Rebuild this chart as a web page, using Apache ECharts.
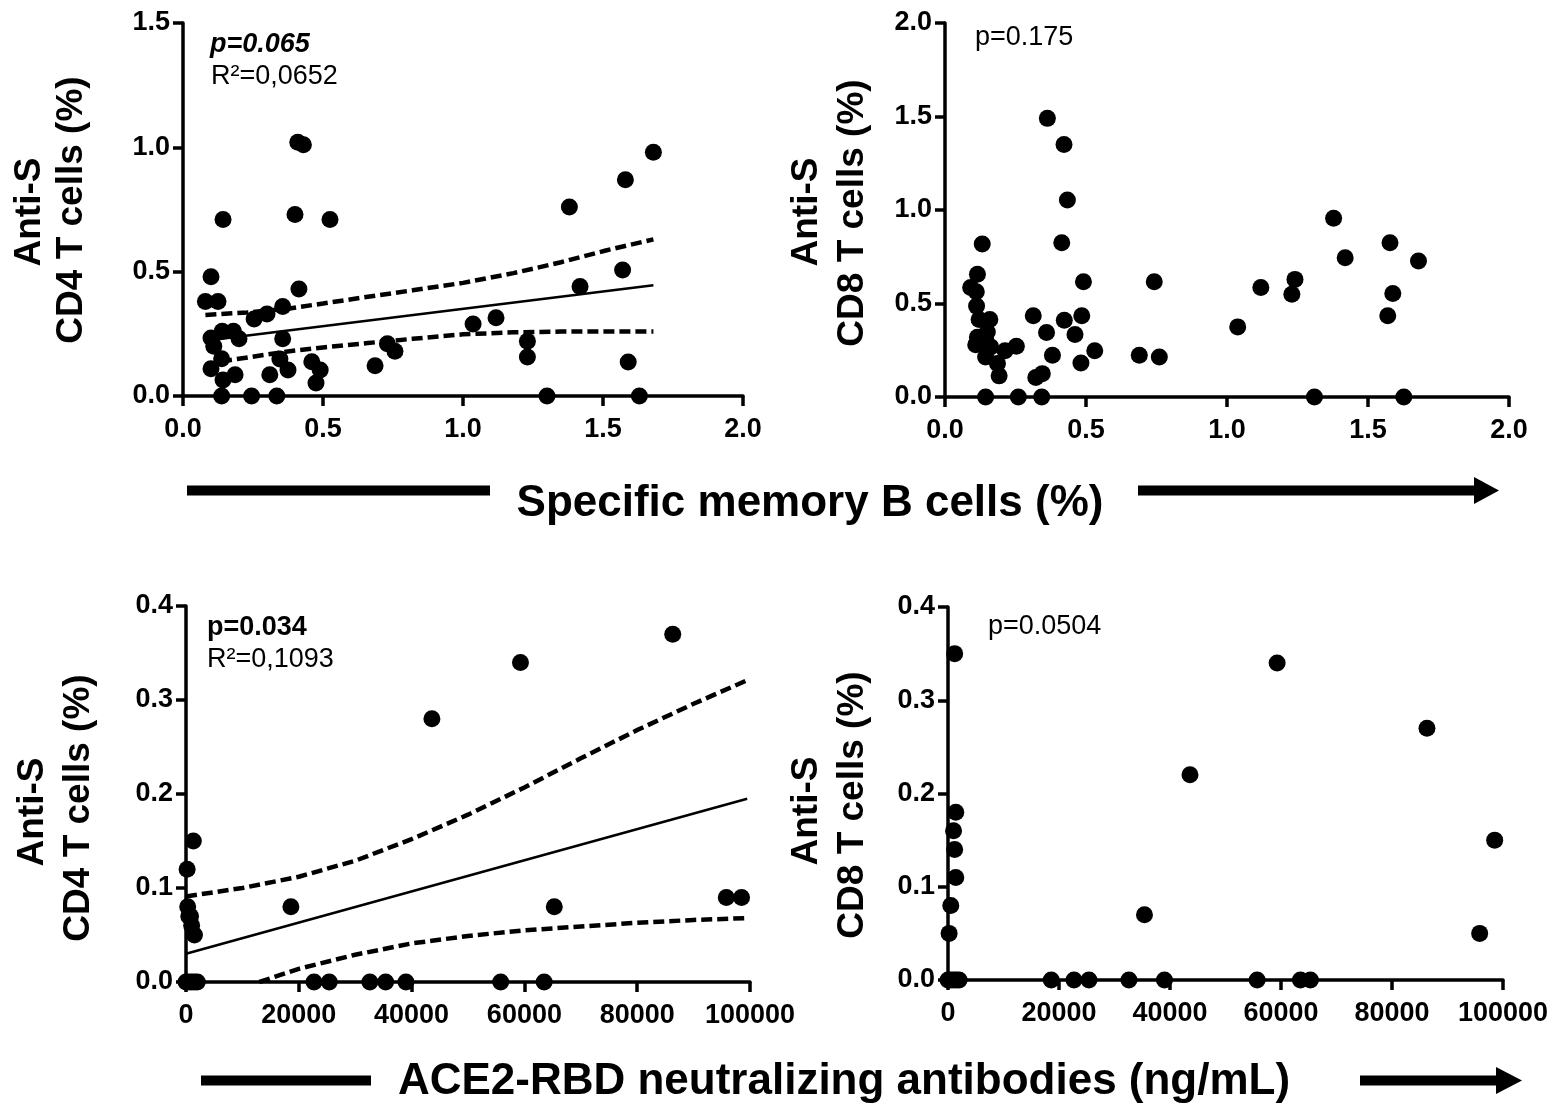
<!DOCTYPE html>
<html><head><meta charset="utf-8">
<script src="https://cdn.jsdelivr.net/npm/echarts@6/dist/echarts.min.js"></script>
<style>html,body{margin:0;padding:0;background:#fff}#c{width:1559px;height:1115px}</style>
</head><body><div id="c"></div>
<script>
// ---------- DATA ----------
// Panel A: Specific memory B cells (%) vs Anti-S CD4 T cells (%)
const memB_CD4 = [
  [0.41,1.02],[0.43,1.01],[0.143,0.71],[0.40,0.73],[0.525,0.71],[0.10,0.48],[0.414,0.43],
  [0.08,0.38],[0.125,0.38],[0.254,0.31],[0.30,0.33],[0.356,0.36],[1.036,0.29],[1.118,0.315],
  [0.10,0.233],[0.14,0.26],[0.18,0.26],[0.20,0.23],[0.11,0.20],[0.356,0.23],[0.73,0.21],[0.757,0.18],
  [1.23,0.22],[1.23,0.157],[0.138,0.15],[0.10,0.11],[0.143,0.064],[0.186,0.085],[0.31,0.085],
  [0.346,0.149],[0.375,0.105],[0.46,0.138],[0.49,0.105],[0.475,0.052],[0.686,0.122],
  [0.138,0],[0.245,0],[0.335,0],[1.30,0],[1.63,0],
  [1.68,0.98],[1.58,0.87],[1.38,0.76],[1.57,0.507],[1.418,0.44],[1.59,0.137]
];
const fit_memB_CD4 = [[0.08,0.222],[1.68,0.445]];
const ciUp_memB_CD4 = [[0.08,0.326],[0.23,0.336],[0.38,0.352],[0.5,0.372],[0.66,0.399],[0.82,0.425],[1.0,0.455],[1.18,0.494],[1.35,0.538],[1.51,0.585],[1.68,0.63]];
const ciLo_memB_CD4 = [[0.08,0.125],[0.17,0.145],[0.38,0.18],[0.5,0.195],[0.66,0.213],[0.82,0.23],[1.0,0.248],[1.18,0.256],[1.35,0.259],[1.68,0.259]];

// Panel B: Specific memory B cells (%) vs Anti-S CD8 T cells (%)
const memB_CD8 = [
  [0.363,1.49],[0.422,1.35],[0.434,1.054],[0.414,0.825],[0.132,0.818],[0.115,0.657],[0.091,0.586],
  [0.111,0.563],[0.491,0.616],[0.742,0.616],[0.112,0.486],[0.121,0.415],[0.159,0.415],[0.313,0.434],
  [0.423,0.411],[0.485,0.434],[0.36,0.345],[0.461,0.334],[1.038,0.375],[0.115,0.32],[0.15,0.348],
  [0.144,0.313],[0.109,0.28],[0.162,0.268],[0.253,0.272],[0.213,0.247],[0.144,0.214],[0.186,0.179],
  [0.192,0.113],[0.381,0.223],[0.531,0.247],[0.689,0.223],[0.76,0.214],[0.482,0.182],[0.322,0.104],
  [0.345,0.125],[0.144,0],[0.26,0],[0.343,0],
  [1.378,0.956],[1.578,0.825],[1.419,0.745],[1.679,0.727],[1.241,0.629],[1.23,0.55],[1.12,0.586],
  [1.588,0.554],[1.57,0.434],[1.31,0],[1.627,0]
];

// Panel C: ACE2-RBD neutralizing antibodies (ng/mL) vs Anti-S CD4 T cells (%)
const nab_CD4 = [
  [200,0.12],[1300,0.15],[300,0.08],[500,0.07],[800,0.07],[1000,0.06],[1500,0.05],
  [0,0],[500,0],[1000,0],[1500,0],[2000,0],
  [18600,0.08],[22700,0],[25400,0],[32600,0],[35400,0],[39000,0],[43600,0.28],[55800,0],
  [59300,0.34],[63500,0],[65300,0.08],[86300,0.37],[95800,0.09],[98500,0.09]
];
const fit_nab_CD4 = [[0,0.03],[99500,0.195]];
const ciUp_nab_CD4 = [[0,0.091],[10000,0.100],[20000,0.112],[30000,0.129],[40000,0.152],[50000,0.178],[60000,0.207],[70000,0.238],[80000,0.268],[90000,0.296],[99500,0.321]];
const ciLo_nab_CD4 = [[13000,0],[20000,0.014],[30000,0.029],[40000,0.041],[50000,0.049],[60000,0.055],[70000,0.059],[80000,0.063],[90000,0.066],[99500,0.068]];

// Panel D: ACE2-RBD neutralizing antibodies (ng/mL) vs Anti-S CD8 T cells (%)
const nab_CD8 = [
  [1200,0.35],[1400,0.18],[1000,0.16],[1200,0.14],[1400,0.11],[500,0.08],[200,0.05],
  [0,0],[500,0],[1000,0],[1500,0],[2000,0],
  [18600,0],[22700,0],[25400,0],[32600,0],[35400,0.07],[39000,0],[43600,0.22],[55700,0],
  [59300,0.34],[63500,0],[65300,0],[86300,0.27],[95800,0.05],[98500,0.15]
];

const yTitleTop = 'Anti-S';
const yTitleCD4 = 'CD4 T cells (%)';
const yTitleCD8 = 'CD8 T cells (%)';
const xTitleTop = 'Specific memory B cells (%)';
const xTitleBottom = 'ACE2-RBD neutralizing antibodies (ng/mL)';

// ---------- CHART ----------
const FONT = '"Liberation Sans", Arial, Helvetica, sans-serif';
const chart = echarts.init(document.getElementById('c'), null, {renderer: 'canvas'});

const f1 = v => v.toFixed(1);
const f0 = v => String(v);

function axis(gridIndex, min, max, interval, fmt, margin) {
  return {
    type: 'value', gridIndex, min, max, interval,
    axisLine: {show: true, onZero: false, lineStyle: {color: '#000', width: 3.5}},
    axisTick: {show: true, inside: false, length: 10, lineStyle: {color: '#000', width: 3.5}},
    splitLine: {show: false},
    axisLabel: {color: '#000', fontFamily: FONT, fontWeight: 'bold', fontSize: 27, margin, formatter: fmt}
  };
}

const grids = [
  {left: 183, top: 23, width: 560, height: 373},
  {left: 945, top: 23, width: 564, height: 374},
  {left: 186, top: 606, width: 564, height: 376},
  {left: 948, top: 607, width: 555, height: 373}
];

const xAxes = [
  axis(0, 0, 2, 0.5, f1, 20),
  axis(1, 0, 2, 0.5, f1, 20),
  axis(2, 0, 100000, 20000, f0, 20),
  axis(3, 0, 100000, 20000, f0, 20)
];
const yAxes = [
  axis(0, 0, 1.5, 0.5, f1, 13),
  axis(1, 0, 2, 0.5, f1, 13),
  axis(2, 0, 0.4, 0.1, f1, 13),
  axis(3, 0, 0.4, 0.1, f1, 13)
];

function scatter(i, data) {
  return {type: 'scatter', xAxisIndex: i, yAxisIndex: i, data, symbol: 'circle', symbolSize: 17,
          itemStyle: {color: '#000', opacity: 1}, clip: false, z: 5, silent: true};
}
function line(i, data, dashed) {
  return {type: 'line', xAxisIndex: i, yAxisIndex: i, data, showSymbol: false, symbol: 'none',
          smooth: false, clip: true, z: 3, silent: true,
          lineStyle: dashed ? {color: '#000', width: 4.5, type: [11, 5], cap: 'butt'} : {color: '#000', width: 2.5}};
}

function vtext(x, y, text) {
  return {type: 'text', x, y, rotation: Math.PI / 2,
          style: {text, fontSize: 37, fontWeight: 'bold', fontFamily: FONT, fill: '#000', align: 'center', verticalAlign: 'middle'}};
}
function htext(x, y, text, size, weight, style, align) {
  return {type: 'text', x, y,
          style: {text, fontSize: size, fontWeight: weight || 'normal', fontStyle: style || 'normal', fontFamily: FONT, fill: '#000', align: align || 'left', verticalAlign: 'middle'}};
}

const graphic = [
  vtext(30, 212, yTitleTop), vtext(72, 210, yTitleCD4),
  vtext(807, 212, yTitleTop), vtext(853, 213, yTitleCD8),
  vtext(33, 812, yTitleTop), vtext(79, 808, yTitleCD4),
  vtext(807, 811, yTitleTop), vtext(853, 805, yTitleCD8),
  htext(210, 45, 'p=0.065', 27, 'bold', 'italic'),
  htext(211, 77, 'R²=0,0652', 27),
  htext(975, 38, 'p=0.175', 27),
  htext(207, 628, 'p=0.034', 27, 'bold'),
  htext(207, 660, 'R²=0,1093', 27),
  htext(988, 627, 'p=0.0504', 27),
  htext(810, 504, xTitleTop, 44, 'bold', 'normal', 'center'),
  htext(844, 1082, xTitleBottom, 44, 'bold', 'normal', 'center'),
  {type: 'rect', shape: {x: 187, y: 485.5, width: 303, height: 10}, style: {fill: '#000'}},
  {type: 'rect', shape: {x: 1138, y: 485.5, width: 338, height: 10}, style: {fill: '#000'}},
  {type: 'polygon', shape: {points: [[1474, 477], [1499, 490.5], [1474, 504]]}, style: {fill: '#000'}},
  {type: 'rect', shape: {x: 201, y: 1075.5, width: 170, height: 10}, style: {fill: '#000'}},
  {type: 'rect', shape: {x: 1360, y: 1075.5, width: 138, height: 10}, style: {fill: '#000'}},
  {type: 'polygon', shape: {points: [[1496, 1067], [1522, 1080.5], [1496, 1094]]}, style: {fill: '#000'}}
];

chart.setOption({
  animation: false,
  backgroundColor: '#fff',
  grid: grids,
  xAxis: xAxes,
  yAxis: yAxes,
  graphic,
  series: [
    line(0, fit_memB_CD4, false), line(0, ciUp_memB_CD4, true), line(0, ciLo_memB_CD4, true),
    scatter(0, memB_CD4),
    scatter(1, memB_CD8),
    line(2, fit_nab_CD4, false), line(2, ciUp_nab_CD4, true), line(2, ciLo_nab_CD4, true),
    scatter(2, nab_CD4),
    scatter(3, nab_CD8)
  ]
});
</script></body></html>
